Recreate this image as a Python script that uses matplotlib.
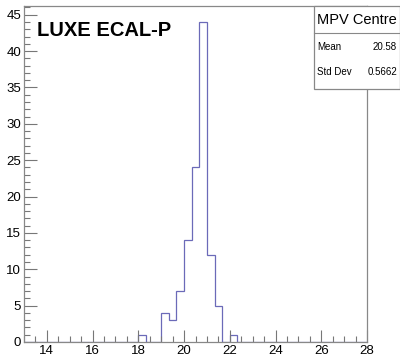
import numpy as np
import matplotlib
matplotlib.use("Agg")
import matplotlib.pyplot as plt
from matplotlib.ticker import MultipleLocator
from matplotlib.patches import Rectangle
from matplotlib.lines import Line2D

######################################
## data ##############################
######################################
x_lo, x_hi, n_bins = 13.0, 28.0, 45
counts = [0, 0, 0, 0, 0, 0, 0, 0, 0, 0,
          0, 0, 0, 0, 0, 1, 0, 0, 4, 3,
          7, 14, 24, 44, 12, 5, 0, 1, 0, 0,
          0, 0, 0, 0, 0, 0, 0, 0, 0, 0,
          0, 0, 0, 0, 0]
title_txt = "LUXE ECAL-P"
stats_name = "MPV Centre"
stats_rows = [("Mean", "20.58"), ("Std Dev", "0.5662")]

######################################
## plot ##############################
######################################
plt.rcParams['font.family'] = ['Liberation Sans', 'DejaVu Sans']
W, H = 400, 357
fig = plt.figure(figsize=(W / 100, H / 100), dpi=100)

def fx(px):
    return px / W

def fy(py):
    return 1 - py / H

ax = fig.add_axes([fx(24), fy(342), fx(367) - fx(24), fy(6) - fy(342)])
edges = np.linspace(x_lo, x_hi, n_bins + 1)
ax.stairs(counts, edges, color='#6b6ab8', linewidth=0.9)

ax.set_xlim(x_lo, x_hi)
ax.set_ylim(0, max(counts) * 1.05)
ax.xaxis.set_major_locator(MultipleLocator(2))
ax.xaxis.set_minor_locator(MultipleLocator(0.5))
ax.yaxis.set_major_locator(MultipleLocator(5))
ax.yaxis.set_minor_locator(MultipleLocator(1))
ax.tick_params(which='both', direction='in', top=False, right=False,
               color='#777777', width=0.8, labelsize=9.5)
ax.tick_params(which='major', length=9)
ax.tick_params(which='minor', length=4.5)
ax.tick_params(axis='x', pad=2)
ax.tick_params(axis='y', pad=2)
for s in ax.spines.values():
    s.set_color('#888888')
    s.set_linewidth(0.9)

ax.text(0.038, 0.955, title_txt, transform=ax.transAxes, fontsize=14.5,
        fontweight='bold', va='top', ha='left')

# stats box
box = Rectangle((fx(314), fy(89)), fx(400) - fx(314), fy(6) - fy(89),
                transform=fig.transFigure, facecolor='white',
                edgecolor='#888888', linewidth=0.9, zorder=5)
fig.patches.append(box)
fig.lines.append(Line2D([fx(314), fx(400)], [fy(33), fy(33)],
                        transform=fig.transFigure, color='#888888',
                        linewidth=0.8, zorder=6))
fig.text(fx(357), fy(19.5), stats_name, fontsize=10.5, ha='center',
         va='center', zorder=7)
for i, (k, v) in enumerate(stats_rows):
    yy = fy(47 + i * 25)
    fig.text(fx(317), yy, k, fontsize=7, ha='left', va='center', zorder=7)
    fig.text(fx(397), yy, v, fontsize=7, ha='right', va='center', zorder=7)

fig.savefig("out.png", dpi=100)
